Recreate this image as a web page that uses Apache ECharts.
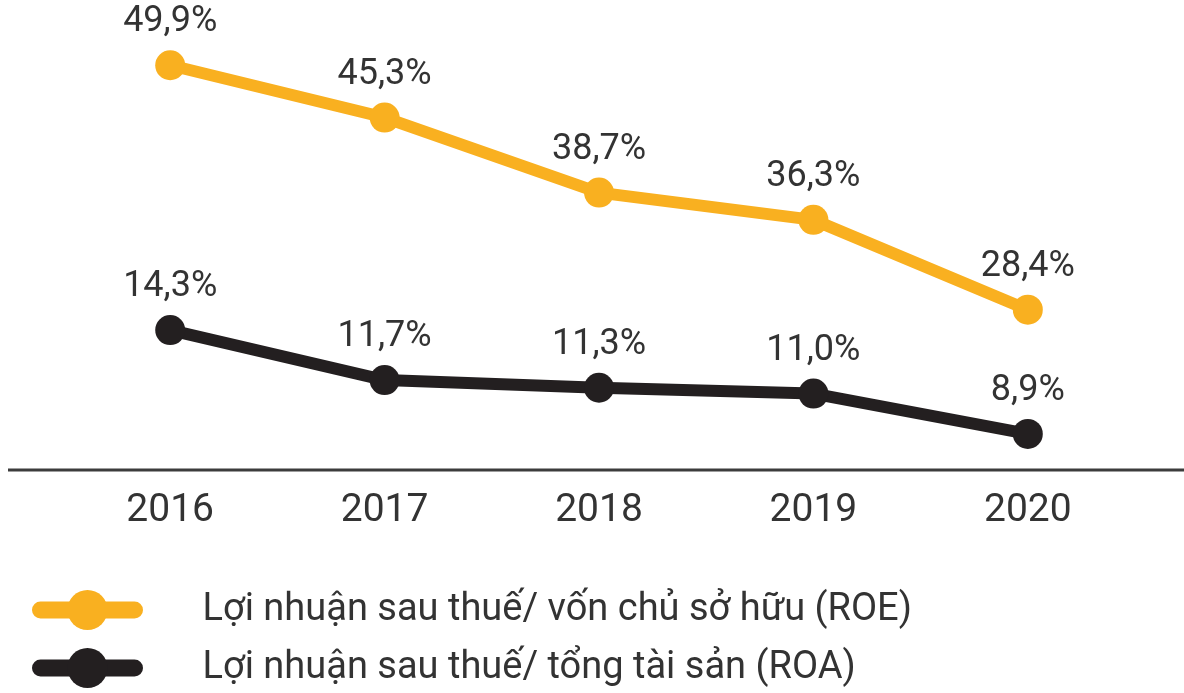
<!DOCTYPE html>
<html>
<head>
	<meta charset="utf-8">
	<title></title>
	<style type="text/css">
	html, body { margin: 0; padding: 0; background: #fff; }
	#chart { width: 1184px; height: 693px; }
	</style>
</head>
<body>
	<div id="chart"></div>
	<script src="https://cdn.jsdelivr.net/npm/echarts@6/dist/echarts.min.js"></script>
	<script>
	var years = ['2016', '2017', '2018', '2019', '2020'];
	var roe = [49.9, 45.3, 38.7, 36.3, 28.4];
	var roa = [14.3, 11.7, 11.3, 11.0, 8.9];
	var roeName = 'Lợi nhuận sau thuế/ vốn chủ sở hữu (ROE)';
	var roaName = 'Lợi nhuận sau thuế/ tổng tài sản (ROA)';

	var font = 'Roboto';
	var textColor = '#333333';

	function pct(p) {
		return p.value.toFixed(1).replace('.', ',') + '%';
	}

	var myChart = echarts.init(document.getElementById('chart'));
	var option = {
		animation: false,
		grid: { left: 63, right: 49, top: 30, bottom: 223 },
		xAxis: {
			type: 'category',
			boundaryGap: true,
			data: years,
			axisLine: { show: false },
			axisTick: { show: false },
			axisLabel: { margin: 22, color: textColor, fontSize: 39, fontFamily: font }
		},
		// two hidden scales, the source picture is not drawn to one scale
		yAxis: [
			{ type: 'value', min: 14.3, max: 53.0, show: false },
			{ type: 'value', min: 7.02, max: 29.92, show: false }
		],
		legend: {
			orient: 'vertical',
			left: 27,
			top: 585,
			itemWidth: 94,
			itemHeight: 50,
			itemGap: 18,
			lineStyle: { width: 17, cap: 'round' },
			textStyle: { color: textColor, fontSize: 38, fontFamily: font, padding: [0, 0, 0, 63] },
			data: [roeName, roaName]
		},
		graphic: [{
			type: 'line',
			shape: { x1: 8, y1: 470, x2: 1184, y2: 470 },
			style: { stroke: '#3c3c3c', lineWidth: 3 }
		}],
		series: [{
			name: roeName,
			type: 'line',
			yAxisIndex: 0,
			data: roe,
			symbol: 'circle',
			symbolSize: 30,
			color: '#F9B020',
			lineStyle: { width: 12, cap: 'round' },
			label: {
				show: true, position: 'top', distance: 10,
				color: textColor, fontSize: 36, fontFamily: font, formatter: pct
			}
		}, {
			name: roaName,
			type: 'line',
			yAxisIndex: 1,
			data: roa,
			symbol: 'circle',
			symbolSize: 30,
			color: '#231F20',
			lineStyle: { width: 12, cap: 'round' },
			label: {
				show: true, position: 'top', distance: 10,
				color: textColor, fontSize: 36, fontFamily: font, formatter: pct
			}
		}]
	};
	myChart.setOption(option, true);
	</script>
</body>
</html>
